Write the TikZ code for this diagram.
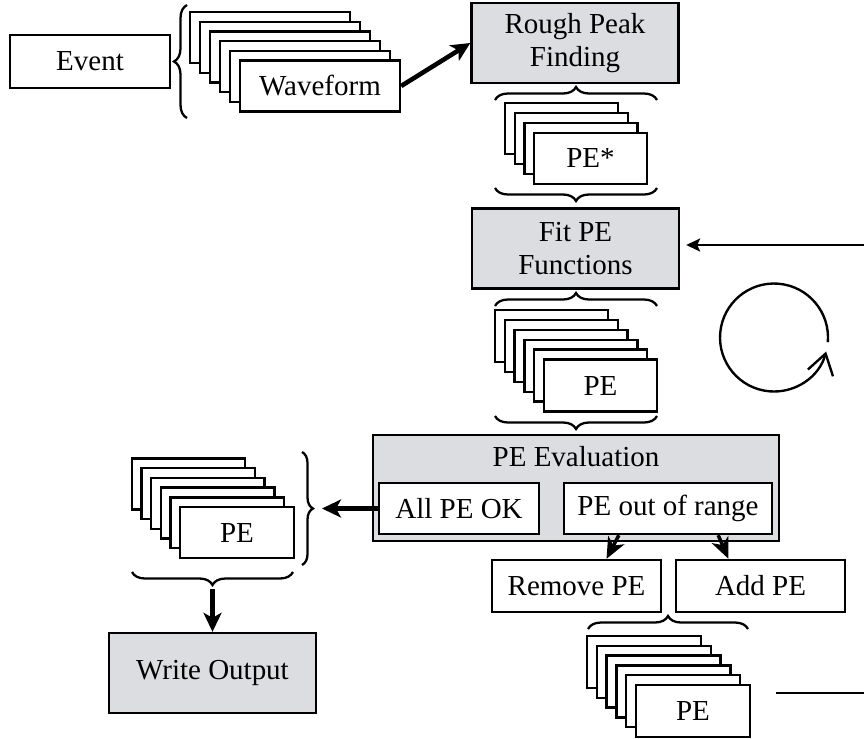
\documentclass[tikz,border=0pt]{standalone}
\usepackage{fontspec}
\setmainfont{Liberation Serif}
\usetikzlibrary{arrows.meta,calc,decorations.pathreplacing}
\definecolor{procgray}{RGB}{220,221,224}

\begin{document}
\begin{tikzpicture}[
    x=0.02cm,
    y=-0.02cm,
    font=\fontsize{16.5}{19}\selectfont,
    box/.style={draw=black, line width=1.35pt, inner sep=0pt, align=center},
    procbox/.style={box, fill=procgray, minimum width=4.14cm, minimum height=1.6cm},
    card/.style={box, fill=white},
    curly/.style={draw=black, line width=1.3pt, decorate, decoration={brace, amplitude=0.26cm}},
    flow/.style={draw=black, line width=2.6pt, -{Stealth[length=0.38cm, width=0.36cm, inset=0.1cm]}},
    stepflow/.style={draw=black, line width=2pt, -{Stealth[length=0.42cm, width=0.36cm, inset=0.12cm]}},
    thinflow/.style={draw=black, line width=1.3pt, -{Stealth[length=0.28cm, width=0.26cm, inset=0.06cm]}}
]
\path[use as bounding box] (0,0) rectangle (864,738);

% Event and its waveforms
\node[card, minimum width=3.2cm, minimum height=1.06cm] (event) at (90,61.5) {Event};
\draw[curly] (187,118) -- (187,5);
\foreach \i in {0,...,4} {
    \node[card, minimum width=3.2cm, minimum height=1.02cm] (wf\i) at (270+10*\i,37.5+9.7*\i) {};
}
\node[card, minimum width=3.2cm, minimum height=1.02cm] (wf5) at (320,86) {Waveform};

% Processing steps
\node[procbox] (rough) at (575,43) {Rough Peak\\Finding};
\node[procbox] (fit) at (575.5,248.5) {Fit PE\\Functions};
\node[procbox] (write) at (212.5,673) {Write Output};
\draw[flow] (wf5.east) -- (rough.west);

% Rough PE candidates
\draw[curly] (495,100) -- (657,100);
\foreach \i in {0,...,2} {
    \node[card, minimum width=2.26cm, minimum height=1.02cm] (pestar\i) at (561.5+9.7*\i,128.5+10*\i) {};
}
\node[card, minimum width=2.26cm, minimum height=1.02cm] (pestar3) at (590.5,158.5) {PE*};
\draw[curly] (657,188) -- (495,188);

% Fitted PEs
\draw[curly] (495,306) -- (657,306);
\foreach \i in {0,...,4} {
    \node[card, minimum width=2.26cm, minimum height=1.04cm] (pefit\i) at (551.5+9.8*\i,336+9.9*\i) {};
}
\node[card, minimum width=2.26cm, minimum height=1.04cm] (pefit5) at (600.5,385.5) {PE};
\draw[curly] (657,416) -- (495,416);

% Evaluation block
\node[box, fill=procgray, minimum width=8.12cm, minimum height=2.12cm] (eval) at (576,488) {};
\node (evaltitle) at (576,457) {PE Evaluation};
\node[card, minimum width=3.2cm, minimum height=1.02cm] (allok) at (459,508.5) {All PE OK};
\node[card, minimum width=4.16cm, minimum height=1.02cm] (range) at (668,508.5) {PE out of range};
\node[card, minimum width=3.38cm, minimum height=1.04cm] (remove) at (576.5,586) {Remove PE};
\node[card, minimum width=3.38cm, minimum height=1.04cm] (add) at (760.5,586) {Add PE};
\draw[stepflow] ($(range.south west)+(56,0)$) -- ($(remove.north)+(30,0)$);
\draw[stepflow] ($(range.south east)+(-55,0)$) -- ($(add.north)+(-32,0)$);

% Updated PEs
\draw[curly] (588,629) -- (748,629);
\foreach \i in {0,...,4} {
    \node[card, minimum width=2.28cm, minimum height=1.04cm] (penew\i) at (644+9.8*\i,662+9.8*\i) {};
}
\node[card, minimum width=2.28cm, minimum height=1.04cm] (penew5) at (693,711) {PE};

% Accepted PEs
\foreach \i in {0,...,4} {
    \node[card, minimum width=2.27cm, minimum height=1.02cm] (peok\i) at (188.5+9.7*\i,484+9.7*\i) {};
}
\node[card, minimum width=2.27cm, minimum height=1.02cm] (peok5) at (237,532.5) {PE};
\draw[curly, decoration={amplitude=0.22cm}] (302,452) -- (302,565);
\draw[curly] (293,572) -- (132,572);
\coordinate (okbrace) at (322,508.5);
\coordinate (outbrace) at (212.5,589);
\draw[flow] (allok.west) -- (okbrace);
\draw[flow] (outbrace) -- (write.north);

% Iteration loop
\coordinate (loopc) at (774,337.5);
\draw[line width=1.35pt, -{Straight Barb[length=0.4cm, width=0.52cm]}]
    ($(loopc)+(-5:1.08cm)$) arc[start angle=-5, end angle=345, radius=1.08cm];
\coordinate (loopin) at (864,245);
\draw[thinflow, shorten >=0.12cm] (loopin) -- (fit.east |- loopin);
\coordinate (loopout) at (776,693);
\coordinate (loopedge) at (864,693);
\draw[line width=1.35pt] (loopout) -- (loopedge);
\end{tikzpicture}
\end{document}
